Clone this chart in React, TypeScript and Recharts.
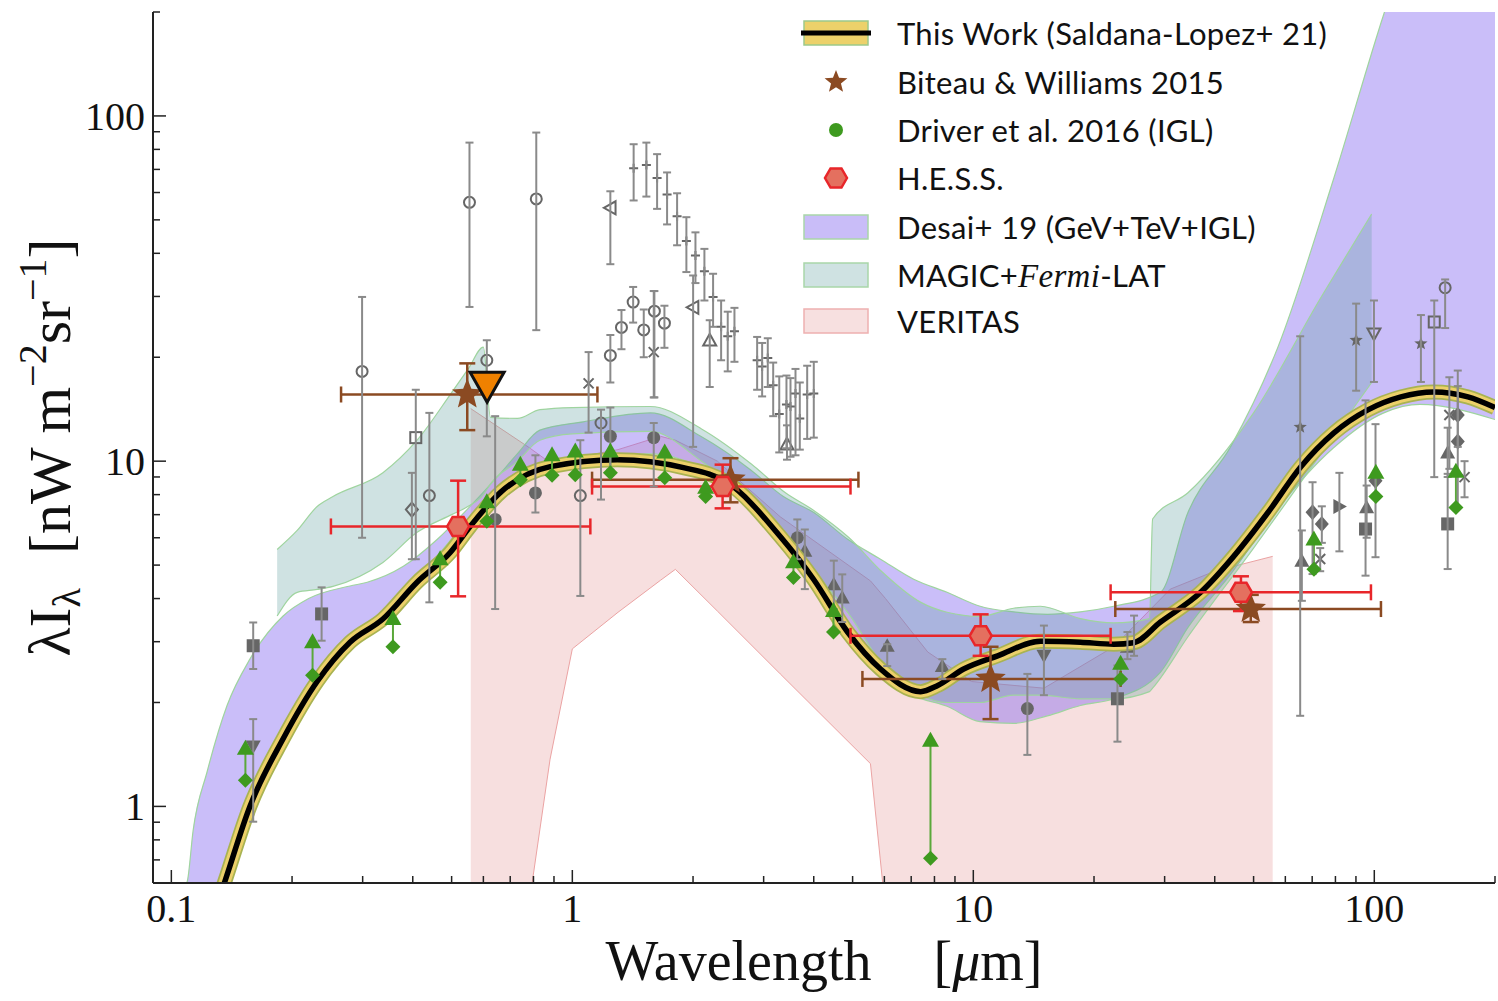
import React from "react";
import {
  ComposedChart,
  XAxis,
  YAxis,
  Area,
  Line,
  Scatter,
  ErrorBar,
} from "recharts";

const SERIF = "'Liberation Serif', 'DejaVu Serif', serif";
const SANS = "Lato, 'Open Sans', sans-serif";

// ---- axis ticks ----
const xTicks = [
  0.1, 0.2, 0.3, 0.4, 0.5, 0.6, 0.7, 0.8, 0.9, 1, 2, 3, 4, 5, 6, 7, 8, 9, 10,
  20, 30, 40, 50, 60, 70, 80, 90, 100, 200,
];
const xMajor = [0.1, 1, 10, 100];
const yTicks = [
  0.6, 0.7, 0.8, 0.9, 1, 2, 3, 4, 5, 6, 7, 8, 9, 10, 20, 30, 40, 50, 60, 70,
  80, 90, 100, 200,
];
const yMajor = [1, 10, 100];

// ---- This Work (Saldana-Lopez+ 21) ----
const thisWorkX = [
  0.13, 0.136, 0.157, 0.19, 0.231, 0.279, 0.337, 0.41, 0.496, 0.556, 0.661,
  0.881, 1.295, 1.892, 2.437, 3.3, 3.995, 4.857, 5.87, 7.39, 8.15, 9.46, 11.5,
  14.72, 18.5, 22.4, 25.1, 29.3, 36.9, 44.6, 54.3, 65.6, 79.3, 96.4, 116.5,
  140.8, 171.2, 200,
];
const thisWorkY = [
  0.52, 0.607, 1.0, 1.57, 2.3, 2.99, 3.49, 4.46, 5.44, 6.47, 8.11, 9.64, 10.1,
  9.58, 8.67, 6.05, 4.55, 3.2, 2.5, 2.15, 2.24, 2.5, 2.73, 3.01, 2.99, 2.95,
  2.98, 3.42, 4.17, 5.3, 7.1, 9.64, 12.08, 14.08, 15.35, 15.87, 15.35, 14.3,
];

// ---- Desai+ 19 band ----
const desaiX = [
  0.1, 0.1096, 0.1133, 0.1228, 0.1377, 0.157, 0.19, 0.22, 0.279, 0.308, 0.379,
  0.46, 0.547, 0.65, 0.729, 0.83, 1.065, 1.565, 2.09, 2.78, 3.36, 4.0, 4.86,
  5.87, 7.1, 8.6, 10.4, 12.6, 15.3, 18.5, 22.4, 29.3, 34.3, 43.8, 57.5, 78.9,
  105.6, 130, 200,
];
const desaiLo = [
  0.45, 0.45, 0.45, 0.45, 0.66, 1.06, 1.66, 2.2, 3.15, 3.4, 4.1, 5.3, 6.7, 8.0,
  8.9, 9.6, 10.1, 10.5, 9.6, 7.7, 6.0, 4.7, 3.3, 2.5, 2.1, 1.95, 1.76, 1.74,
  1.83, 1.96, 2.05, 2.45, 3.3, 4.7, 7.3, 10.9, 13.8, 14.6, 13.2,
];
const desaiHi = [
  0.5, 0.607, 0.85, 1.26, 1.96, 2.67, 3.56, 4.0, 4.35, 4.46, 4.96, 5.93, 7.25,
  9.0, 10.5, 12.3, 13.0, 13.8, 11.8, 9.45, 7.9, 7.1, 5.94, 5.2, 4.55, 4.17, 3.8,
  3.66, 3.6, 3.66, 3.8, 4.17, 7.1, 11.0, 21.4, 64.9, 197, 400, 1000,
];

// ---- MAGIC+Fermi-LAT band ----
const magicX = [
  0.1836, 0.206, 0.231, 0.253, 0.337, 0.41, 0.5, 0.55, 0.6, 0.625, 0.73, 0.83,
  1.0, 1.565, 2.1, 2.8, 3.4, 4.0, 4.9, 5.9, 7.4, 8.6, 10.4, 12.6, 14.7, 18.5,
  22.4, 27.5, 28.0, 34.3, 50, 73.6, 98.5,
];
const magicLo = [
  3.56, 4.17, 4.25, 4.34, 5.09, 6.22, 7.0, 7.4, 8.0, 8.6, 10.0, 11.5, 12.0,
  12.2, 10.0, 7.6, 6.0, 4.8, 3.6, 2.6, 2.1, 2.0, 2.0, 2.1, 2.1, 2.05, 2.05,
  2.15, 2.2, 3.1, 5.6, 10.5, 16.9,
];
const magicHi = [
  5.55, 6.3, 7.39, 7.9, 9.26, 11.5, 15.8, 18.5, 21.4, 13.4, 13.3, 14.1, 14.3,
  14.4, 12.4, 9.8, 8.1, 7.2, 6.0, 4.8, 3.9, 3.65, 3.55, 3.75, 3.8, 3.5, 3.4,
  3.5, 6.8, 8.1, 13.8, 29.8, 52,
];

// ---- VERITAS band ----
const veritasX = [
  0.558, 0.776, 0.88, 1.0, 1.3, 1.66, 1.807, 2.3, 3.3, 5.54, 6.04, 7.7, 9.9, 15,
  22.4, 31, 40, 55.8,
];
const veritasLo = [
  0.5, 0.5, 1.37, 2.86, 3.65, 4.52, 4.86, 3.68, 2.42, 1.33, 0.5, 0.5, 0.5, 0.5,
  0.5, 0.5, 0.5, 0.5,
];
const veritasHi = [
  14.2, 11.0, 9.9, 10.2, 10.8, 11.8, 11.5, 10.0, 6.9, 4.5, 4.0, 2.8, 2.3, 2.2,
  2.9, 4.26, 4.8, 5.3,
];

// ---- Biteau & Williams 2015: x, y, xLow, xHigh, yLow, yHigh ----
const biteau = [
  [0.547, 15.6, 0.265, 1.155, 12.3, 19.2],
  [2.48, 8.84, 1.12, 5.17, 7.6, 10.2],
  [11.04, 2.34, 5.29, 23.3, 1.79, 2.9],
  [49.2, 3.73, 22.6, 103.9, 3.42, 4.1],
];

// ---- H.E.S.S.: x, y, xLow, xHigh, yLow, yHigh ----
const hess = [
  [0.519, 6.47, 0.25, 1.109, 4.06, 8.78],
  [2.37, 8.44, 1.12, 4.94, 7.3, 9.77],
  [10.43, 3.12, 4.94, 22.0, 2.73, 3.6],
  [46.5, 4.17, 22.0, 98.1, 3.68, 4.64],
];

// ---- orange upper limit ----
const orangeLimit = [[0.613, 16.6]];

// ---- Driver et al. 2016 (IGL): x, lower, upper ----
const driverIGL = [
  [0.153, 1.19, 1.47],
  [0.225, 2.4, 2.99],
  [0.357, 2.9, 3.49],
  [0.468, 4.46, 5.2],
  [0.612, 6.7, 7.6],
  [0.742, 8.84, 9.77],
  [0.89, 9.1, 10.4],
  [1.017, 9.14, 10.67],
  [1.244, 9.26, 10.67],
  [1.7, 8.95, 10.6],
  [2.15, 7.9, 8.37],
  [3.56, 4.6, 5.1],
  [4.48, 3.2, 3.68],
  [7.82, 0.708, 1.55],
  [23.3, 2.34, 2.59],
  [70.7, 4.86, 5.93],
  [100.9, 7.9, 9.26],
  [159.8, 7.34, 9.32],
];

// ---- other measurements (grey): x, y, yLow, yHigh ----
const grayFilledSquares = [
  [0.16, 2.92, 2.5, 3.41],
  [0.237, 3.61, 3.02, 4.31],
  [22.88, 2.05, 1.54, 2.56],
  [95.1, 6.36, 4.66, 15.0],
  [152.4, 6.58, 4.87, 9.19],
];
const grayDownTriangles = [
  [0.16, 1.49, 0.903, 1.79],
  [15.0, 2.73, 2.1, 3.34],
];
const grayOpenCircles = [
  [0.299, 18.2, 6.0, 29.9],
  [0.44, 7.95, 3.9, 13.8],
  [0.554, 56.2, 27.97, 83.7],
  [0.612, 19.6, 11.8, 22.4],
  [0.813, 57.5, 23.96, 89.5],
  [1.047, 7.95, 4.07, 11.5],
  [1.179, 12.9, 7.74, 14.1],
  [1.244, 20.25, 16.9, 23.2],
  [1.326, 24.4, 21.1, 27.4],
  [1.418, 28.9, 25.2, 31.96],
  [1.507, 24.0, 20.0, 27.5],
  [1.602, 27.2, 15.3, 31.1],
  [1.697, 25.1, 21.3, 28.2],
  [150.2, 31.8, 24.3, 33.6],
];
const grayOpenSquares = [
  [0.407, 11.7, 5.2, 16.1],
  [141.1, 25.3, 8.99, 29.2],
];
const grayOpenDiamonds = [[0.398, 7.24, 5.2, 9.25]];
const grayFilledCircles = [
  [0.642, 6.78, 3.73, 13.5],
  [0.809, 8.09, 7.1, 10.4],
  [1.244, 11.8, 9.45, 14.3],
  [1.596, 11.7, 8.44, 12.9],
  [3.64, 6.0, 5.2, 6.78],
  [13.64, 1.92, 1.41, 2.42],
];
const grayPlus = [
  [1.422, 70.5, 56.9, 82.8],
  [1.53, 72.1, 58.4, 83.7],
  [1.627, 66.1, 53.8, 77.5],
  [1.723, 59.2, 48.5, 68.6],
  [1.825, 51.2, 42.2, 59.7],
  [1.925, 43.4, 35.3, 50.9],
  [2.028, 39.4, 32.8, 46.0],
  [2.135, 35.5, 29.2, 41.2],
  [2.244, 29.9, 24.5, 34.9],
  [2.35, 24.5, 19.6, 29.2],
  [2.441, 23.0, 18.2, 27.1],
  [2.537, 23.8, 19.4, 27.8],
  [2.89, 19.6, 16.1, 22.9],
  [2.974, 18.8, 15.4, 22.0],
  [3.072, 19.9, 16.4, 22.7],
  [3.169, 16.6, 13.5, 19.3],
  [3.281, 13.7, 10.6, 17.6],
  [3.42, 14.6, 10.9, 17.7],
  [3.5, 14.4, 10.3, 17.4],
  [3.602, 15.7, 10.4, 18.5],
  [3.692, 13.3, 10.8, 16.9],
  [3.852, 15.6, 11.6, 18.9],
  [4.001, 15.7, 11.7, 19.4],
];
const grayOpenLeftTriangles = [
  [1.244, 54.2, 37.2, 60.5],
  [2.001, 27.9, 11.0, 34.5],
];
const grayOpenUpTriangles = [
  [2.201, 22.4, 16.4, 25.6],
  [3.43, 11.2, 10.1, 12.7],
];
const grayCrosses = [
  [1.098, 16.8, 12.1, 20.7],
  [1.596, 20.7, 15.3, 31.1],
  [73.3, 5.21, 4.8, 5.6],
  [153.9, 13.6, 9.5, 17.5],
  [167.9, 8.99, 7.86, 10.0],
];
const grayFilledTriangles = [
  [3.8, 5.5, 4.26, 6.34],
  [4.488, 4.4, 3.73, 5.15],
  [4.711, 4.03, 3.42, 4.7],
  [6.1, 2.92, 2.55, 2.95],
  [8.37, 2.55, 2.34, 2.67],
  [24.23, 2.9, 2.67, 3.2],
  [25.17, 3.0, 2.73, 3.57],
  [65.97, 5.15, 3.94, 6.3],
  [95.7, 7.36, 6.0, 8.5],
  [152.4, 10.6, 9.0, 12.5],
];
const grayFilledDiamonds = [
  [70.15, 7.11, 4.71, 8.69],
  [73.99, 6.58, 5.8, 7.4],
  [100.7, 8.78, 5.27, 12.8],
  [161.5, 13.6, 11.0, 16.5],
  [161.5, 11.4, 7.36, 18.3],
];
const grayStars = [
  [65.34, 12.55, 1.83, 23.0],
  [90.1, 22.4, 16.0, 28.6],
  [130.7, 21.9, 16.96, 26.5],
];
const grayRightTriangles = [[81.84, 7.39, 5.48, 9.25]];
const grayOpenDownTriangles = [[99.8, 23.4, 16.96, 29.2]];

// ---- build series ----
const thisWork = thisWorkX.map((x, i) => ({ x, y: thisWorkY[i] }));
const toBand = (xs: number[], lo: number[], hi: number[]) =>
  xs.map((x, i) => ({ x, band: [lo[i], hi[i]] }));
const toErr = (rows: number[][]) =>
  rows.map(([x, y, lo, hi]) => ({ x, y, ey: [y - lo, hi - y] }));
const toXYErr = (rows: number[][]) =>
  rows.map(([x, y, xl, xh, yl, yh]) => ({
    x,
    y,
    ex: [x - xl, xh - x],
    ey: [y - yl, yh - y],
  }));

const desaiBand = toBand(desaiX, desaiLo, desaiHi);
const magicBand = toBand(magicX, magicLo, magicHi);
const veritasBand = toBand(veritasX, veritasLo, veritasHi);
const driverLow = driverIGL.map(([x, lo, hi]) => ({ x, y: lo, ey: [0, hi - lo] }));
const driverHigh = driverIGL.map(([x, , hi]) => ({ x, y: hi }));
const orange = orangeLimit.map(([x, y]) => ({ x, y }));

// ---- marker shapes ----
const G = "#666666";
const GE = "#8a8a8a";

const starPath = (cx: number, cy: number, R: number, r: number) => {
  let d = "";
  for (let i = 0; i < 10; i++) {
    const a = -Math.PI / 2 + (i * Math.PI) / 5;
    const rad = i % 2 === 0 ? R : r;
    d += (i === 0 ? "M" : "L") + (cx + rad * Math.cos(a)).toFixed(2) + "," + (cy + rad * Math.sin(a)).toFixed(2);
  }
  return d + "Z";
};
const hexPath = (cx: number, cy: number, R: number) => {
  let d = "";
  for (let i = 0; i < 6; i++) {
    const a = (i * Math.PI) / 3;
    d += (i === 0 ? "M" : "L") + (cx + R * Math.cos(a)).toFixed(2) + "," + (cy + R * Math.sin(a)).toFixed(2);
  }
  return d + "Z";
};
const tri = (cx: number, cy: number, s: number, dir: string) => {
  if (dir === "up") return `M${cx},${cy - s}L${cx + s},${cy + s * 0.8}L${cx - s},${cy + s * 0.8}Z`;
  if (dir === "down") return `M${cx},${cy + s}L${cx + s},${cy - s * 0.8}L${cx - s},${cy - s * 0.8}Z`;
  if (dir === "left") return `M${cx - s},${cy}L${cx + s * 0.8},${cy - s}L${cx + s * 0.8},${cy + s}Z`;
  return `M${cx + s},${cy}L${cx - s * 0.8},${cy - s}L${cx - s * 0.8},${cy + s}Z`;
};

const openCircle = (p: any) => <circle cx={p.cx} cy={p.cy} r={5.5} fill="none" stroke={G} strokeWidth={2} />;
const filledCircle = (p: any) => <circle cx={p.cx} cy={p.cy} r={6.5} fill={G} />;
const filledSquare = (p: any) => <rect x={p.cx - 6.5} y={p.cy - 6.5} width={13} height={13} fill={G} />;
const openSquare = (p: any) => <rect x={p.cx - 5.5} y={p.cy - 5.5} width={11} height={11} fill="none" stroke={G} strokeWidth={2} />;
const openDiamond = (p: any) => (
  <path d={`M${p.cx},${p.cy - 7}L${p.cx + 6},${p.cy}L${p.cx},${p.cy + 7}L${p.cx - 6},${p.cy}Z`} fill="none" stroke={G} strokeWidth={2} />
);
const filledDiamond = (p: any) => (
  <path d={`M${p.cx},${p.cy - 8}L${p.cx + 7},${p.cy}L${p.cx},${p.cy + 8}L${p.cx - 7},${p.cy}Z`} fill={G} />
);
const plusMark = (p: any) => (
  <path d={`M${p.cx - 4.5},${p.cy}H${p.cx + 4.5}M${p.cx},${p.cy - 4.5}V${p.cy + 4.5}`} stroke={G} strokeWidth={2} />
);
const crossMark = (p: any) => (
  <path d={`M${p.cx - 5},${p.cy - 5}L${p.cx + 5},${p.cy + 5}M${p.cx + 5},${p.cy - 5}L${p.cx - 5},${p.cy + 5}`} stroke={G} strokeWidth={2} />
);
const filledUp = (p: any) => <path d={tri(p.cx, p.cy, 7.5, "up")} fill={G} />;
const filledDown = (p: any) => <path d={tri(p.cx, p.cy, 7.5, "down")} fill={G} />;
const filledRight = (p: any) => <path d={tri(p.cx, p.cy, 7.5, "right")} fill={G} />;
const openUp = (p: any) => <path d={tri(p.cx, p.cy, 6.5, "up")} fill="none" stroke={G} strokeWidth={2} />;
const openDown = (p: any) => <path d={tri(p.cx, p.cy, 6.5, "down")} fill="none" stroke={G} strokeWidth={2} />;
const openLeft = (p: any) => <path d={tri(p.cx, p.cy, 6.5, "left")} fill="none" stroke={G} strokeWidth={2} />;
const grayStar = (p: any) => <path d={starPath(p.cx, p.cy, 7, 3)} fill={G} />;

const BROWN = "#8b4a22";
const RED = "#e8262a";
const GREEN = "#3e9a1f";
const brownStar = (p: any) => <path d={starPath(p.cx, p.cy, 16, 7)} fill={BROWN} />;
const redHex = (p: any) => <path d={hexPath(p.cx, p.cy, 11)} fill="#e4705f" stroke={RED} strokeWidth={2.5} />;
const orangeTri = (p: any) => (
  <path d={`M${p.cx - 17},${p.cy - 13}L${p.cx + 17},${p.cy - 13}L${p.cx},${p.cy + 17}Z`} fill="#ef8100" stroke="#111" strokeWidth={3} strokeLinejoin="miter" />
);
const greenTri = (p: any) => <path d={`M${p.cx},${p.cy - 9}L${p.cx + 8.5},${p.cy + 6}L${p.cx - 8.5},${p.cy + 6}Z`} fill={GREEN} />;
const greenDiamond = (p: any) => (
  <path d={`M${p.cx},${p.cy - 7.5}L${p.cx + 7.5},${p.cy}L${p.cx},${p.cy + 7.5}L${p.cx - 7.5},${p.cy}Z`} fill={GREEN} />
);

// ---- ticks ----
const AX = "#222";
const renderBottomTick = (p: any) => {
  const v = p.payload.value;
  const major = xMajor.includes(v);
  return (
    <g>
      <line x1={p.x} x2={p.x} y1={p.y} y2={p.y - (major ? 13 : 7)} stroke={AX} strokeWidth={1.5} />
      {major && (
        <text x={p.x} y={p.y + 39} textAnchor="middle" fontFamily={SERIF} fontSize={40} fill="#111">
          {v}
        </text>
      )}
    </g>
  );
};
const renderTopTick = (p: any) => {
  const major = xMajor.includes(p.payload.value);
  return <line x1={p.x} x2={p.x} y1={p.y} y2={p.y + (major ? 13 : 7)} stroke={AX} strokeWidth={1.5} />;
};
const renderLeftTick = (p: any) => {
  const v = p.payload.value;
  const major = yMajor.includes(v);
  return (
    <g>
      <line x1={p.x} x2={p.x + (major ? 13 : 7)} y1={p.y} y2={p.y} stroke={AX} strokeWidth={1.5} />
      {major && (
        <text x={p.x - 8} y={p.y + 14} textAnchor="end" fontFamily={SERIF} fontSize={40} fill="#111">
          {v}
        </text>
      )}
    </g>
  );
};
const renderRightTick = (p: any) => {
  const major = yMajor.includes(p.payload.value);
  return <line x1={p.x} x2={p.x - (major ? 13 : 7)} y1={p.y} y2={p.y} stroke={AX} strokeWidth={1.5} />;
};

const xTitle = (props: any) => {
  const vb = props.viewBox || { x: 153, y: 883, width: 1342 };
  return (
    <text x={vb.x + vb.width / 2} y={vb.y + 97} textAnchor="middle" fontFamily={SERIF} fontSize={56} fill="#111">
      Wavelength
      <tspan dx={62}>[</tspan>
      <tspan fontStyle="italic">μ</tspan>
      <tspan>m]</tspan>
    </text>
  );
};
const yTitle = (props: any) => {
  const vb = props.viewBox || { x: 0, y: 12, width: 153, height: 871 };
  const cx = 70;
  const cy = vb.y + vb.height / 2;
  return (
    <text x={cx} y={cy} transform={`rotate(-90 ${cx} ${cy})`} textAnchor="middle" fontFamily={SERIF} fontSize={60} fill="#111">
      λI
      <tspan fontSize={40} dy={10}>λ</tspan>
      <tspan dy={-10} dx={34}>[nW m</tspan>
      <tspan fontSize={40} dy={-24}>−2</tspan>
      <tspan dy={24}>sr</tspan>
      <tspan fontSize={40} dy={-24}>−1</tspan>
      <tspan dy={24}>]</tspan>
    </text>
  );
};

// ---- legend ----
const legendCenters = [33, 82, 130, 178, 227, 275, 321];
function LegendBox() {
  const swatch = (i: number, content: React.ReactNode) => (
    <svg key={"s" + i} width={76} height={40} style={{ position: "absolute", left: 798, top: legendCenters[i] - 20 }}>
      {content}
    </svg>
  );
  const label = (i: number, content: React.ReactNode) => (
    <div
      key={"t" + i}
      style={{
        position: "absolute",
        left: 897,
        top: legendCenters[i] - 20,
        height: 40,
        lineHeight: "40px",
        fontFamily: SANS,
        fontSize: 31,
        letterSpacing: 0.3,
        color: "#111",
        whiteSpace: "nowrap",
      }}
    >
      {content}
    </div>
  );
  const rect = (fill: string, stroke: string) => (
    <rect x={6} y={8} width={64} height={24} fill={fill} stroke={stroke} strokeWidth={1.5} />
  );
  return (
    <div style={{ position: "absolute", left: 0, top: 0 }}>
      {swatch(0, <g>{rect("#ecd16a", "#9cc98a")}<line x1={3} x2={73} y1={20} y2={20} stroke="#000" strokeWidth={5} /></g>)}
      {label(0, "This Work (Saldana-Lopez+ 21)")}
      {swatch(1, <path d={starPath(38, 20, 12, 5.2)} fill={BROWN} />)}
      {label(1, "Biteau & Williams 2015")}
      {swatch(2, <circle cx={38} cy={20} r={7} fill={GREEN} />)}
      {label(2, "Driver et al. 2016 (IGL)")}
      {swatch(3, <path d={hexPath(38, 20, 11)} fill="#e4705f" stroke={RED} strokeWidth={2.5} />)}
      {label(3, "H.E.S.S.")}
      {swatch(4, rect("#c9bdf8", "#a9d6a9"))}
      {label(4, "Desai+ 19 (GeV+TeV+IGL)")}
      {swatch(5, rect("#cfe2e2", "#a9d6a9"))}
      {label(5, <span>MAGIC+<i style={{ fontFamily: SERIF, fontSize: 33 }}>Fermi</i>-LAT</span>)}
      {swatch(6, rect("#f7e0e0", "#eeb0b0"))}
      {label(6, "VERITAS")}
    </div>
  );
}

const grayGroups: [number[][], (p: any) => React.ReactElement][] = [
  [grayFilledSquares, filledSquare],
  [grayDownTriangles, filledDown],
  [grayOpenCircles, openCircle],
  [grayOpenSquares, openSquare],
  [grayOpenDiamonds, openDiamond],
  [grayFilledCircles, filledCircle],
  [grayPlus, plusMark],
  [grayOpenLeftTriangles, openLeft],
  [grayOpenUpTriangles, openUp],
  [grayCrosses, crossMark],
  [grayFilledTriangles, filledUp],
  [grayFilledDiamonds, filledDiamond],
  [grayStars, grayStar],
  [grayRightTriangles, filledRight],
  [grayOpenDownTriangles, openDown],
];

export default function App() {
  return (
    <div style={{ position: "absolute", left: 0, top: 0, width: 1498, height: 1001, background: "#fff" }}>
      <ComposedChart width={1498} height={1001} margin={{ top: 12, right: 3, bottom: 0, left: 0 }}>
        <XAxis
          dataKey="x"
          type="number"
          scale="log"
          domain={[0.09, 200]}
          allowDataOverflow
          ticks={xTicks}
          interval={0}
          tick={renderBottomTick}
          tickLine={false}
          tickSize={0}
          tickMargin={0}
          height={118}
          axisLine={{ stroke: AX, strokeWidth: 2 }}
          label={xTitle}
        />
        <XAxis
          xAxisId="top"
          orientation="top"
          dataKey="x"
          type="number"
          scale="log"
          domain={[0.09, 200]}
          allowDataOverflow
          ticks={xTicks}
          interval={0}
          tick={renderTopTick}
          tickLine={false}
          tickSize={0}
          tickMargin={0}
          height={0}
          axisLine={{ stroke: AX, strokeWidth: 2 }}
        />
        <YAxis
          type="number"
          scale="log"
          domain={[0.6, 200]}
          allowDataOverflow
          ticks={yTicks}
          interval={0}
          tick={renderLeftTick}
          tickLine={false}
          tickSize={0}
          tickMargin={0}
          width={153}
          axisLine={{ stroke: AX, strokeWidth: 2 }}
          label={yTitle}
        />
        <YAxis
          yAxisId="right"
          orientation="right"
          type="number"
          scale="log"
          domain={[0.6, 200]}
          allowDataOverflow
          ticks={yTicks}
          interval={0}
          tick={renderRightTick}
          tickLine={false}
          tickSize={0}
          tickMargin={0}
          width={0}
          axisLine={{ stroke: AX, strokeWidth: 2 }}
        />

        <Area data={veritasBand} dataKey="band" type="linear" fill="#d66060" fillOpacity={0.2} stroke="#eba3a3" strokeWidth={1} dot={false} activeDot={false} isAnimationActive={false} />
        <Area data={desaiBand} dataKey="band" type="monotone" fill="#7b5cf0" fillOpacity={0.4} stroke="#9fd49f" strokeWidth={1.2} dot={false} activeDot={false} isAnimationActive={false} />
        <Area data={magicBand} dataKey="band" type="monotone" fill="#5f9ea0" fillOpacity={0.3} stroke="#9fd49f" strokeWidth={1.2} dot={false} activeDot={false} isAnimationActive={false} />

        {grayGroups.map(([rows, shape], i) => (
          <Scatter key={"g" + i} data={toErr(rows)} dataKey="y" shape={shape} isAnimationActive={false} zIndex={350}>
            <ErrorBar dataKey="ey" direction="y" width={4} stroke={GE} strokeWidth={2} />
          </Scatter>
        ))}

        <Line data={thisWork} dataKey="y" type="monotone" stroke="#a9b352" strokeWidth={15} dot={false} activeDot={false} isAnimationActive={false} />
        <Line data={thisWork} dataKey="y" type="monotone" stroke="#ecd06a" strokeWidth={11.5} dot={false} activeDot={false} isAnimationActive={false} />
        <Line data={thisWork} dataKey="y" type="monotone" stroke="#000" strokeWidth={5.5} dot={false} activeDot={false} isAnimationActive={false} />

        <Scatter data={driverLow} dataKey="y" shape={greenDiamond} isAnimationActive={false}>
          <ErrorBar dataKey="ey" direction="y" width={0} stroke="#5aa83a" strokeWidth={2} />
        </Scatter>
        <Scatter data={driverHigh} dataKey="y" shape={greenTri} isAnimationActive={false} />

        <Scatter data={toXYErr(biteau)} dataKey="y" shape={brownStar} isAnimationActive={false}>
          <ErrorBar dataKey="ex" direction="x" width={8} stroke={BROWN} strokeWidth={2.5} />
          <ErrorBar dataKey="ey" direction="y" width={8} stroke={BROWN} strokeWidth={2.5} />
        </Scatter>
        <Scatter data={toXYErr(hess)} dataKey="y" shape={redHex} isAnimationActive={false}>
          <ErrorBar dataKey="ex" direction="x" width={8} stroke={RED} strokeWidth={2.5} />
          <ErrorBar dataKey="ey" direction="y" width={8} stroke={RED} strokeWidth={2.5} />
        </Scatter>
        <Scatter data={orange} dataKey="y" shape={orangeTri} isAnimationActive={false} />
      </ComposedChart>
      <LegendBox />
    </div>
  );
}
